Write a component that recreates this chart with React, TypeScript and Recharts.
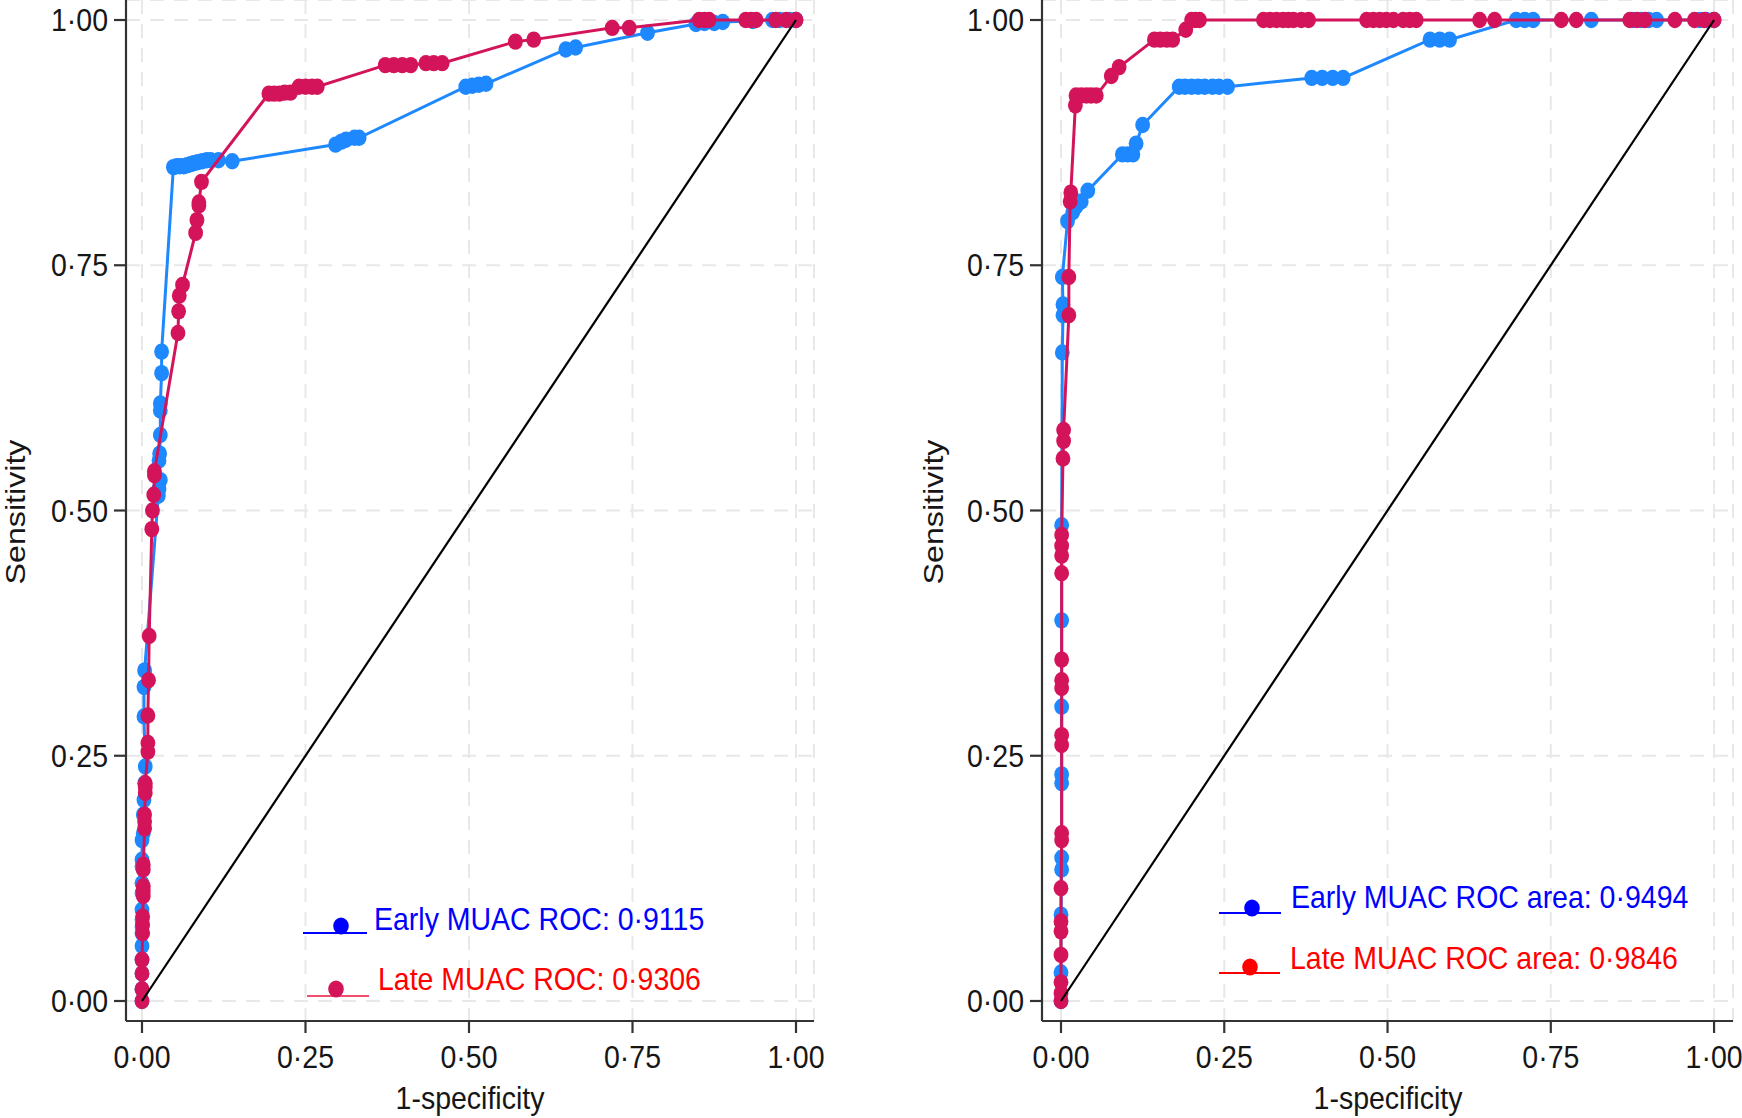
import { ScatterChart, Scatter, XAxis, YAxis, CartesianGrid } from "recharts";

const BLUE = "#1E88FF";
const CRIMSON = "#D4145A";
const AXIS = "#333333";
const INK = "#161616";
const FONT = '"Liberation Sans", Arial, Helvetica, sans-serif';
const STRETCH = 1.13; // text is drawn a little taller than wide

const axisTicks = [0, 0.25, 0.5, 0.75, 1];
const sensDomain: [number, number] = [-0.0204, 1.0204];

// Panel 1: ROC points (1-specificity, sensitivity)
const earlyFpr1 = [
  0, 0, 0, 0, 0, 0, 0, 0, 0, 0, 0, 0, 0, 0, 0.002, 0.002, 0.003, 0.004, 0.005, 0.003, 0.003, 0.004,
  0.025, 0.026, 0.028, 0.026, 0.027, 0.028, 0.028, 0.028, 0.03, 0.03,
  0.048, 0.053, 0.058, 0.064, 0.069, 0.074, 0.079, 0.085, 0.092, 0.099, 0.105, 0.117, 0.138,
  0.296, 0.305, 0.312, 0.325, 0.332, 0.495, 0.505, 0.515, 0.526, 0.648, 0.663, 0.773,
  0.847, 0.86, 0.875, 0.888, 0.934, 0.964, 0.975, 0.99, 1,
];
const earlySens1 = [
  0, 0.012, 0.028, 0.042, 0.056, 0.069, 0.076, 0.083, 0.093, 0.11, 0.12, 0.137, 0.144, 0.164, 0.171, 0.19, 0.205, 0.222, 0.239, 0.29, 0.32, 0.337,
  0.515, 0.522, 0.531, 0.551, 0.558, 0.577, 0.602, 0.609, 0.64, 0.662,
  0.85, 0.851, 0.851, 0.851, 0.852, 0.853, 0.854, 0.855, 0.856, 0.857, 0.857, 0.857, 0.856,
  0.873, 0.876, 0.878, 0.88, 0.88, 0.932, 0.933, 0.934, 0.935, 0.97, 0.972, 0.987,
  0.996, 0.997, 0.997, 0.998, 0.999, 1, 1, 1, 1,
];
const lateFpr1 = [
  0, 0, 0, 0, 0.001, 0.001, 0.001, 0.002, 0.002, 0.002, 0.002, 0.002, 0.004, 0.004, 0.004, 0.005, 0.005, 0.005,
  0.009, 0.009, 0.009, 0.01, 0.011, 0.015, 0.016, 0.018, 0.019, 0.019,
  0.055, 0.056, 0.057, 0.062, 0.082, 0.084, 0.087, 0.087, 0.091,
  0.194, 0.202, 0.21, 0.218, 0.227, 0.24, 0.25, 0.26, 0.268,
  0.372, 0.385, 0.398, 0.411, 0.434, 0.446, 0.459, 0.571, 0.599, 0.719, 0.745,
  0.852, 0.86, 0.867, 0.923, 0.931, 0.939, 0.969, 0.985, 1,
];
const lateSens1 = [
  0, 0.012, 0.028, 0.042, 0.069, 0.078, 0.086, 0.107, 0.112, 0.117, 0.134, 0.139, 0.176, 0.183, 0.19, 0.212, 0.218, 0.222,
  0.254, 0.263, 0.291, 0.327, 0.372, 0.481, 0.5, 0.516, 0.536, 0.54,
  0.681, 0.703, 0.719, 0.73, 0.783, 0.796, 0.811, 0.814, 0.835,
  0.925, 0.925, 0.925, 0.926, 0.926, 0.932, 0.932, 0.932, 0.932,
  0.954, 0.954, 0.954, 0.954, 0.956, 0.956, 0.956, 0.978, 0.98, 0.992, 0.992,
  1, 1, 1, 1, 1, 1, 1, 1, 1,
];

// Panel 2
const earlyFpr2 = [
  0, 0, 0, 0.001, 0.001, 0.001, 0.001, 0.001, 0.001, 0.001, 0.002, 0.003, 0.003, 0.002,
  0.01, 0.018, 0.023, 0.031, 0.041, 0.094, 0.102, 0.11, 0.115, 0.125,
  0.181, 0.19, 0.2, 0.21, 0.22, 0.232, 0.242, 0.255, 0.384, 0.4, 0.416, 0.432,
  0.565, 0.58, 0.595, 0.697, 0.71, 0.723, 0.812, 0.876, 0.888, 0.9, 0.912, 0.978, 0.988, 1,
];
const earlySens2 = [
  0, 0.029, 0.088, 0.134, 0.146, 0.222, 0.231, 0.3, 0.388, 0.485, 0.661, 0.699, 0.71, 0.738,
  0.795, 0.804, 0.81, 0.815, 0.826, 0.863, 0.863, 0.863, 0.874, 0.893,
  0.932, 0.932, 0.932, 0.932, 0.932, 0.932, 0.932, 0.932, 0.941, 0.941, 0.941, 0.941,
  0.98, 0.98, 0.98, 1, 1, 1, 1, 1, 1, 1, 1, 1, 1, 1,
];
const lateFpr2 = [
  0, 0, 0, 0, 0, 0, 0, 0.001, 0.001, 0.001, 0.001, 0.001, 0.001, 0.001, 0.001, 0.001, 0.001, 0.001,
  0.003, 0.004, 0.004, 0.012, 0.012, 0.014, 0.015, 0.022, 0.023, 0.031, 0.039, 0.046, 0.054,
  0.077, 0.089, 0.143, 0.152, 0.162, 0.171, 0.191, 0.2, 0.206, 0.212,
  0.31, 0.32, 0.33, 0.34, 0.348, 0.356, 0.368, 0.379, 0.468, 0.478, 0.488, 0.498, 0.509, 0.524, 0.534, 0.544,
  0.641, 0.664, 0.766, 0.789, 0.871, 0.882, 0.894, 0.94, 0.97, 0.985, 1,
];
const lateSens2 = [
  0, 0.008, 0.019, 0.047, 0.071, 0.081, 0.115, 0.164, 0.171, 0.261, 0.271, 0.319, 0.327, 0.348, 0.436, 0.454, 0.464, 0.475,
  0.553, 0.571, 0.582, 0.699, 0.738, 0.815, 0.824, 0.913, 0.923, 0.923, 0.923, 0.923, 0.923,
  0.943, 0.952, 0.98, 0.98, 0.98, 0.98, 0.99, 1, 1, 1,
  1, 1, 1, 1, 1, 1, 1, 1, 1, 1, 1, 1, 1, 1, 1, 1,
  1, 1, 1, 1, 1, 1, 1, 1, 1, 1, 1,
];

const diagonal = [
  { x: 0, y: 0 },
  { x: 1, y: 1 },
];

const toPoints = (fpr: number[], sens: number[]) => fpr.map((x, i) => ({ x, y: sens[i] }));
const fmt = (v: number) => v.toFixed(2).replace(".", "\u00b7");

const makeDot = (color: string) => (props: any) => (
  <ellipse cx={props.cx} cy={props.cy} rx={7.4} ry={8.2} fill={color} />
);
const blueDot = makeDot(BLUE);
const crimsonDot = makeDot(CRIMSON);
const noDot = () => <g />;

function XTick(props: any) {
  const { x, y, payload } = props;
  return (
    <text
      transform={`translate(${x},${y + 35}) scale(1,${STRETCH})`}
      textAnchor="middle"
      fontFamily={FONT}
      fontSize={28.5}
      fill={INK}
    >
      {fmt(payload.value)}
    </text>
  );
}

function YTick(props: any) {
  const { x, y, payload } = props;
  return (
    <text
      transform={`translate(${x - 6},${y + 11}) scale(1,${STRETCH})`}
      textAnchor="end"
      fontFamily={FONT}
      fontSize={28.5}
      fill={INK}
    >
      {fmt(payload.value)}
    </text>
  );
}

interface PanelProps {
  early: { x: number; y: number }[];
  late: { x: number; y: number }[];
  xDomain: [number, number];
  width: number;
  marginRight: number;
}

function RocPanel({ early, late, xDomain, width, marginRight }: PanelProps) {
  return (
    <ScatterChart width={width} height={1118} margin={{ top: 0, right: marginRight, bottom: 0, left: 0 }}>
      <CartesianGrid stroke="#e8e8e8" strokeWidth={2} strokeDasharray="14 10" />
      <XAxis
        type="number"
        dataKey="x"
        domain={xDomain}
        allowDataOverflow
        ticks={axisTicks}
        interval={0}
        height={97}
        tickSize={12}
        tickMargin={0}
        tick={(p: any) => <XTick {...p} />}
        axisLine={{ stroke: AXIS, strokeWidth: 2.2 }}
        tickLine={{ stroke: AXIS, strokeWidth: 2.2 }}
      />
      <YAxis
        type="number"
        dataKey="y"
        domain={sensDomain}
        allowDataOverflow
        ticks={axisTicks}
        interval={0}
        width={126}
        tickSize={12}
        tickMargin={0}
        tick={(p: any) => <YTick {...p} />}
        axisLine={{ stroke: AXIS, strokeWidth: 2.2 }}
        tickLine={{ stroke: AXIS, strokeWidth: 2.2 }}
      />
      <Scatter
        data={early}
        fill={BLUE}
        line={{ stroke: BLUE, strokeWidth: 3 }}
        lineType="joint"
        shape={blueDot}
        isAnimationActive={false}
      />
      <Scatter
        data={late}
        fill={CRIMSON}
        line={{ stroke: CRIMSON, strokeWidth: 3 }}
        lineType="joint"
        shape={crimsonDot}
        isAnimationActive={false}
      />
      <Scatter
        data={diagonal}
        line={{ stroke: "#000", strokeWidth: 2.2 }}
        lineType="joint"
        shape={noDot}
        isAnimationActive={false}
      />
    </ScatterChart>
  );
}

function Label({ x, y, color, children, anchor = "start" }: any) {
  return (
    <text
      transform={`translate(${x},${y}) scale(1,${STRETCH})`}
      textAnchor={anchor}
      fontFamily={FONT}
      fontSize={28.5}
      fill={color}
    >
      {children}
    </text>
  );
}

function LegendRow({ x1, x2, lineY, dotX, dotY, lineColor, dotColor, textX, textY, textColor, text }: any) {
  return (
    <g>
      <line x1={x1} x2={x2} y1={lineY} y2={lineY} stroke={lineColor} strokeWidth={2.2} />
      <ellipse cx={dotX} cy={dotY} rx={7.8} ry={8.6} fill={dotColor} />
      <Label x={textX} y={textY} color={textColor}>
        {text}
      </Label>
    </g>
  );
}

export default function App() {
  const early1 = toPoints(earlyFpr1, earlySens1);
  const late1 = toPoints(lateFpr1, lateSens1);
  const early2 = toPoints(earlyFpr2, earlySens2);
  const late2 = toPoints(lateFpr2, lateSens2);

  return (
    <div style={{ position: "absolute", left: 0, top: 0, width: 1742, height: 1118, background: "#fff", overflow: "hidden" }}>
      <div style={{ position: "absolute", left: 0, top: 0 }}>
        <RocPanel early={early1} late={late1} xDomain={[-0.02446, 1.02752]} width={840} marginRight={26} />
      </div>
      <div style={{ position: "absolute", left: 916, top: 0 }}>
        <RocPanel early={early2} late={late2} xDomain={[-0.0291, 1.029]} width={826} marginRight={9} />
      </div>
      <svg
        width={1742}
        height={1118}
        style={{ position: "absolute", left: 0, top: 0, pointerEvents: "none" }}
      >
        {/* axis titles */}
        <text
          transform={`translate(25,512) scale(1,${STRETCH}) rotate(-90)`}
          textAnchor="middle"
          fontFamily={FONT}
          fontSize={28.5}
          fill={INK}
        >
          Sensitivity
        </text>
        <text
          transform={`translate(943,512) scale(1,${STRETCH}) rotate(-90)`}
          textAnchor="middle"
          fontFamily={FONT}
          fontSize={28.5}
          fill={INK}
        >
          Sensitivity
        </text>
        <Label x={470} y={1109} color={INK} anchor="middle">
          1-specificity
        </Label>
        <Label x={1388} y={1109} color={INK} anchor="middle">
          1-specificity
        </Label>

        {/* legends */}
        <LegendRow
          x1={303} x2={367} lineY={933} dotX={341} dotY={926}
          lineColor="#0000FF" dotColor="#0000FF"
          textX={374} textY={930} textColor="#0000FF"
          text={"Early MUAC ROC: 0\u00b79115"}
        />
        <LegendRow
          x1={307} x2={369} lineY={996} dotX={336} dotY={989}
          lineColor="#F0506E" dotColor={CRIMSON}
          textX={378} textY={990} textColor="#FF0000"
          text={"Late MUAC ROC: 0\u00b79306"}
        />
        <LegendRow
          x1={1219} x2={1281} lineY={913} dotX={1252} dotY={908}
          lineColor="#0000FF" dotColor="#0000FF"
          textX={1291} textY={908} textColor="#0000FF"
          text={"Early MUAC ROC area: 0\u00b79494"}
        />
        <LegendRow
          x1={1219} x2={1280} lineY={973} dotX={1250} dotY={967}
          lineColor="#FF0000" dotColor="#FF0000"
          textX={1290} textY={969} textColor="#FF0000"
          text={"Late MUAC ROC area: 0\u00b79846"}
        />
      </svg>
    </div>
  );
}
